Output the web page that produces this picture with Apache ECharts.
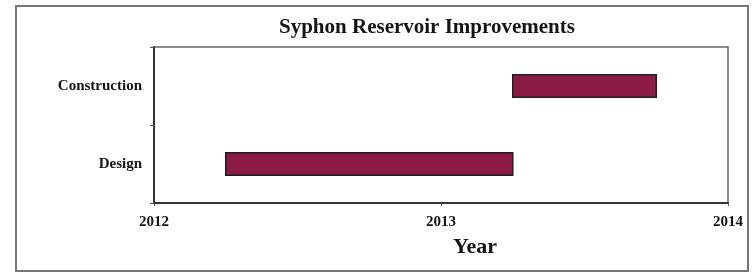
<!doctype html>
<html lang="en">
<head>
    <meta charset="utf-8" />
    <title>Syphon Reservoir Improvements</title>
    <script src="https://cdn.jsdelivr.net/npm/echarts@6/dist/echarts.min.js"></script>
    <style type="text/css">
        html, body { margin: 0; padding: 0; background: #fff; }
        #chart { width: 753px; height: 274px; }
    </style>
</head>
<body>
<div id="chart"></div>
<script>
    // phases, bottom to top on the category axis
    var phases = ['Design', 'Construction'];
    var phaseStart = [2012.25, 2013.25];
    var phaseEnd = [2013.25, 2013.75];
    var yearTicks = [2012, 2013, 2014];

    var serif = '"Liberation Serif", "DejaVu Serif", serif';
    var ink = '#151515';

    var ganttData = [];
    for (var i = 0; i < phases.length; i++) {
        ganttData.push([i, phaseStart[i], phaseEnd[i]]);
    }

    /* draw each phase as a rect between its start and end year */
    function renderPhase(params, api) {
        var cat = api.value(0);
        var p0 = api.coord([api.value(1), cat]);
        var p1 = api.coord([api.value(2), cat]);
        var h = api.size([0, 1])[1] * 0.29;
        return {
            type: 'rect',
            shape: { x: p0[0], y: p0[1] - h / 2, width: p1[0] - p0[0], height: h },
            style: { fill: '#8c1b47', stroke: '#1e1e1e', lineWidth: 1.5 }
        };
    }

    var option = {
        animation: false,
        backgroundColor: '#fff',
        title: [{
            text: 'Syphon Reservoir Improvements',
            left: 279,
            top: 17,
            padding: 0,
            textStyle: { fontFamily: serif, fontSize: 21, fontWeight: 'bold', color: ink }
        }, {
            text: 'Year',
            left: 453,
            top: 236,
            padding: 0,
            textStyle: { fontFamily: serif, fontSize: 22, fontWeight: 'bold', color: ink }
        }],
        graphic: [{
            type: 'rect',
            shape: { x: 16, y: 6, width: 732, height: 265 },
            style: { fill: 'none', stroke: '#777', lineWidth: 2 },
            silent: true
        }],
        grid: {
            left: 154,
            right: 25,
            top: 47,
            bottom: 71,
            show: true,
            borderColor: '#666',
            borderWidth: 1.5
        },
        xAxis: {
            type: 'value',
            min: yearTicks[0],
            max: yearTicks[yearTicks.length - 1],
            interval: 1,
            splitLine: { show: false },
            axisLine: { show: true, lineStyle: { color: '#333', width: 2 } },
            axisTick: { show: true, length: 3, lineStyle: { color: '#555' } },
            axisLabel: {
                margin: 12,
                fontFamily: serif,
                fontSize: 15,
                fontWeight: 'bold',
                color: ink,
                formatter: function (v) { return String(v); }
            }
        },
        yAxis: {
            type: 'category',
            data: phases,
            boundaryGap: true,
            axisLine: { show: true, lineStyle: { color: '#333', width: 2 } },
            axisTick: { show: true, length: 4, lineStyle: { color: '#555' } },
            splitLine: { show: false },
            axisLabel: {
                margin: 12,
                fontFamily: serif,
                fontSize: 15,
                fontWeight: 'bold',
                color: ink
            }
        },
        series: [{
            type: 'custom',
            renderItem: renderPhase,
            encode: { x: [1, 2], y: 0 },
            data: ganttData
        }]
    };

    var chart = echarts.init(document.getElementById('chart'));
    chart.setOption(option);
</script>
</body>
</html>
